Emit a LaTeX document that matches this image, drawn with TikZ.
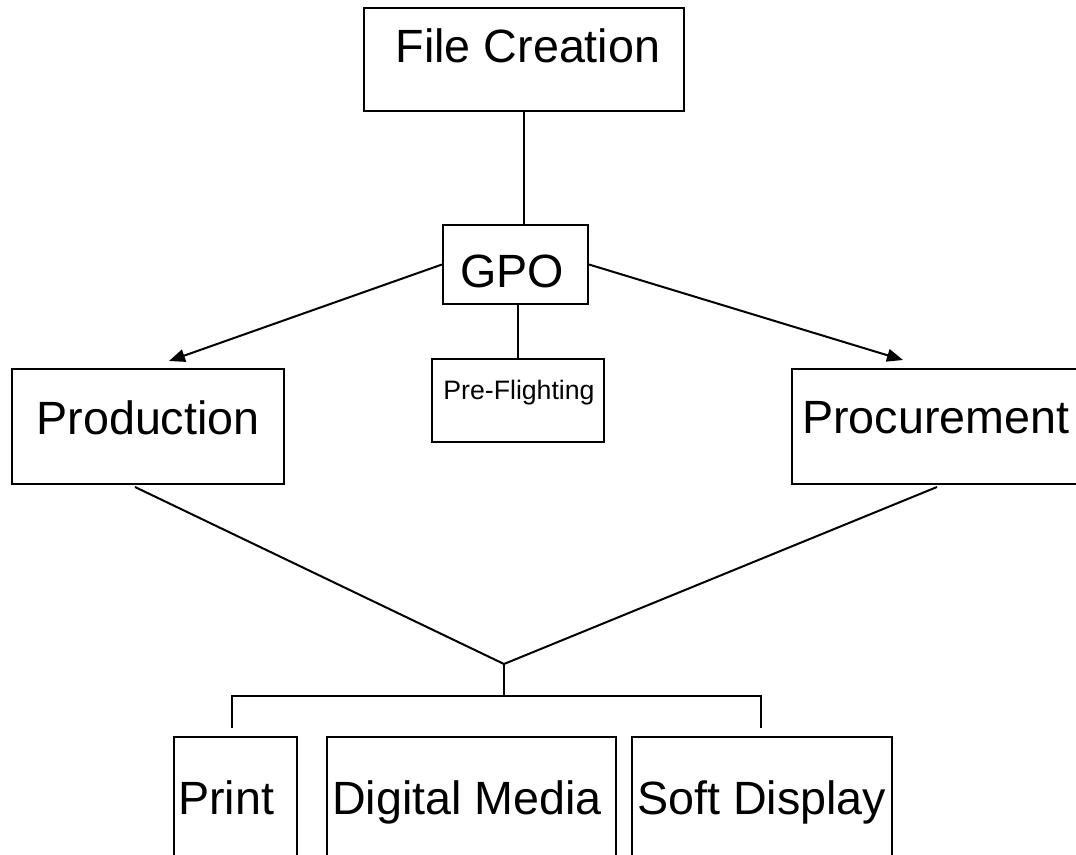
\documentclass[tikz,border=0pt]{standalone}
\usepackage{fontspec}
\setmainfont{Liberation Sans}
\usetikzlibrary{fit,arrows.meta}
\tikzset{
  box/.style={draw=black, line width=1.5pt, rectangle, inner sep=0pt},
  big/.style={font=\fontsize{35}{40}\selectfont, inner sep=0pt},
  small/.style={font=\fontsize{20}{24}\selectfont, inner sep=0pt},
  conn/.style={draw=black, line width=1.5pt},
  arr/.style={conn, -{Triangle[length=12pt,width=9.5pt]}}
}
\begin{document}
\begin{tikzpicture}[x=0.75pt,y=-0.75pt]
\useasboundingbox (0,0) rectangle (1076,855);
% boxes
\node[box, fit={(364,8)(684,111)}] (fc) {};
\node[box, fit={(443,225)(588,304)}] (gpo) {};
\node[box, fit={(432,359)(604,442)}] (pre) {};
\node[box, fit={(12,369)(284,484)}] (prod) {};
\node[box, fit={(792,369)(1200,484)}] (proc) {};
\node[box, fit={(174,737)(297,880)}] (print) {};
\node[box, fit={(327,737)(616,880)}] (dig) {};
\node[box, fit={(632,737)(892,880)}] (soft) {};
% texts
\node[big, anchor=base] (tfc) at (528,63) {File Creation};
\node[big, anchor=base] (tgpo) at (512,288) {GPO};
\node[small, anchor=base] (tpre) at (519,400) {Pre-Flighting};
\node[big, anchor=base] (tprod) at (148,435) {Production};
\node[big, anchor=base west] (tproc) at (802,434) {Procurement};
\node[big, anchor=base west] (tprint) at (178,815) {Print};
\node[big, anchor=base west] (tdig) at (332,815) {Digital Media};
\node[big, anchor=base west] (tsoft) at (637,814) {Soft Display};
% connector points
\coordinate (prodTip) at (169,361);
\coordinate (procTip) at (903,360);
\coordinate (prodOut) at (135,487);
\coordinate (procOut) at (937,487);
\coordinate (meet) at (504,664);
\coordinate (bar) at (504,696);
\coordinate (printIn) at (232,728);
\coordinate (softIn) at (761,728);
% connectors
\draw[conn] (fc.south) -- (fc.south |- gpo.north);
\draw[arr] (gpo.west) -- (prodTip);
\draw[arr] (gpo.east) -- (procTip);
\draw[conn] (pre.north |- gpo.south) -- (pre.north);
\draw[conn, line join=miter] (prodOut) -- (meet) -- (procOut);
\draw[conn] (meet) -- (bar);
\draw[conn] (printIn) |- (bar) -| (softIn);
\end{tikzpicture}
\end{document}
